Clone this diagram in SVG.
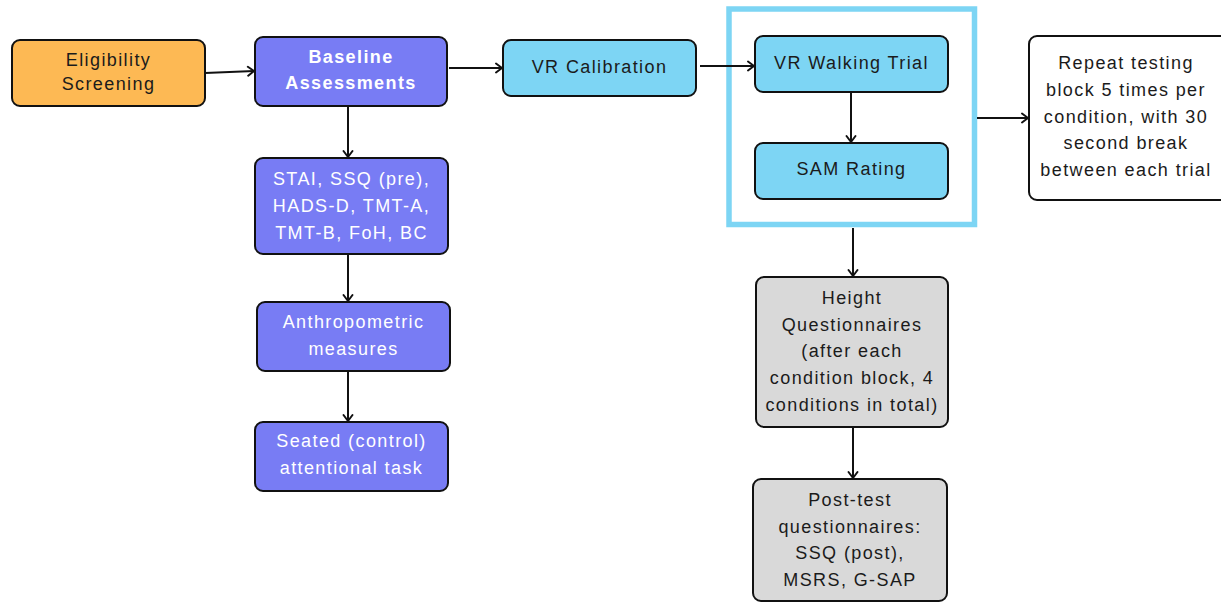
<svg xmlns="http://www.w3.org/2000/svg" width="1221" height="604" viewBox="0 0 1221 604">
<defs>
<marker id="ah" markerWidth="12" markerHeight="12" refX="9" refY="6" orient="auto" markerUnits="userSpaceOnUse">
<path d="M3,1.5 L9,6 L3,10.5" fill="none" stroke="#111" stroke-width="2" stroke-linecap="round" stroke-linejoin="round"/>
</marker>
<style>
.box{stroke:#111;stroke-width:2}
.or{fill:#FDB954}
.pu{fill:#787CF4}
.bl{fill:#7DD5F4}
.gr{fill:#D9D9D9}
.wh{fill:#fff}
text{font-family:"Liberation Sans",Arial,sans-serif;font-size:18px;letter-spacing:1.4px;text-anchor:middle}
.dk{fill:#1b1b1b}
.lt{fill:#fff}
.bd{font-weight:bold}
.cn{fill:none;stroke:#111;stroke-width:2;marker-end:url(#ah)}
</style>
</defs>
<rect x="729" y="9" width="245.5" height="215.5" fill="none" stroke="#7DD5F4" stroke-width="5.5"/>
<g id="connectors">
<path class="cn" d="M205,73 L254,71"/>
<path class="cn" d="M449,68 L502,68"/>
<path class="cn" d="M700,66 L754,66"/>
<path class="cn" d="M851,93 L851,142"/>
<path class="cn" d="M977,118 L1028,118"/>
<path class="cn" d="M348,107 L348,157"/>
<path class="cn" d="M348,255 L348,301"/>
<path class="cn" d="M348,372 L348,421"/>
<path class="cn" d="M853,228 L853,276"/>
<path class="cn" d="M853,428 L853,478"/>
</g>
<g id="eligibility">
<rect class="box or" x="12" y="40" width="193" height="66" rx="8"/>
<text class="dk" x="108.5" y="66">Eligibility</text>
<text class="dk" x="108.5" y="90">Screening</text>
</g>
<g id="baseline">
<rect class="box pu" x="255" y="37" width="192" height="69" rx="8"/>
<text class="lt bd" x="351" y="63">Baseline</text>
<text class="lt bd" x="351" y="89">Assessments</text>
</g>
<g id="stai">
<rect class="box pu" x="255" y="158" width="193" height="96" rx="8"/>
<text class="lt" x="351.5" y="185">STAI, SSQ (pre),</text>
<text class="lt" x="351.5" y="212">HADS-D, TMT-A,</text>
<text class="lt" x="351.5" y="239">TMT-B, FoH, BC</text>
</g>
<g id="anthro">
<rect class="box pu" x="257" y="302" width="193" height="69" rx="8"/>
<text class="lt" x="353.5" y="328">Anthropometric</text>
<text class="lt" x="353.5" y="355">measures</text>
</g>
<g id="seated">
<rect class="box pu" x="255" y="422" width="193" height="69" rx="8"/>
<text class="lt" x="351.5" y="447">Seated (control)</text>
<text class="lt" x="351.5" y="474">attentional task</text>
</g>
<g id="vrcal">
<rect class="box bl" x="503" y="40" width="193" height="56" rx="8"/>
<text class="dk" x="599.5" y="73">VR Calibration</text>
</g>
<g id="vrwalk">
<rect class="box bl" x="755" y="36" width="193" height="56" rx="8"/>
<text class="dk" x="851.5" y="69">VR Walking Trial</text>
</g>
<g id="sam">
<rect class="box bl" x="755" y="143" width="193" height="56" rx="8"/>
<text class="dk" x="851.5" y="175">SAM Rating</text>
</g>
<g id="repeat">
<rect class="box wh" x="1029" y="36" width="200" height="164" rx="8"/>
<text class="dk" x="1126" y="69">Repeat testing</text>
<text class="dk" x="1126" y="96">block 5 times per</text>
<text class="dk" x="1126" y="123">condition, with 30</text>
<text class="dk" x="1126" y="149">second break</text>
<text class="dk" x="1126" y="176">between each trial</text>
</g>
<g id="height">
<rect class="box gr" x="756" y="277" width="192" height="150" rx="8"/>
<text class="dk" x="852" y="304">Height</text>
<text class="dk" x="852" y="331">Questionnaires</text>
<text class="dk" x="852" y="357">(after each</text>
<text class="dk" x="852" y="384">condition block, 4</text>
<text class="dk" x="852" y="411">conditions in total)</text>
</g>
<g id="posttest">
<rect class="box gr" x="753" y="479" width="194" height="122" rx="8"/>
<text class="dk" x="850" y="506">Post-test</text>
<text class="dk" x="850" y="533">questionnaires:</text>
<text class="dk" x="850" y="559">SSQ (post),</text>
<text class="dk" x="850" y="586">MSRS, G-SAP</text>
</g>
</svg>
